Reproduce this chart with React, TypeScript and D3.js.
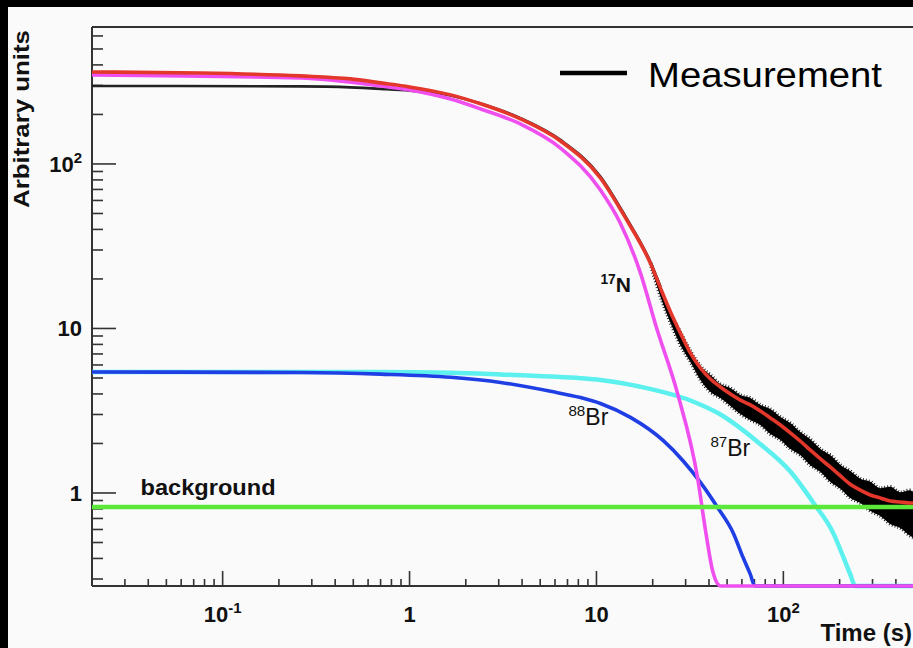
import React, { useRef, useEffect } from 'react';
import * as d3 from 'd3';

// axis limits (time in s, arbitrary units)
const X_DOMAIN: [number, number] = [0.02, 500];
const Y_DOMAIN: [number, number] = [0.272, 680];

// measurement, smooth early part
const MEAS_T = [0.02, 0.261, 0.483, 0.7, 1, 1.66, 2.4, 3.92, 6.42, 10.5, 14.3, 19.5, 22];
const MEAS_V = [298, 296, 292, 286, 279, 261, 233, 190, 140, 84, 48, 25.2, 18];

// measurement, noisy tail: upper and lower edge
const TAIL_T = [19.5, 22.0, 24.9, 28.1, 31.8, 36.0, 40.7, 46.0, 52.1, 58.9, 66.6, 75.3, 85.2, 96.4, 109, 123, 139, 158, 178, 202, 228, 258, 292, 330, 373, 422, 478, 500];
const TAIL_HI = [25.0, 16.9, 12.25, 9.52, 7.3, 5.92, 5.22, 4.6, 4.35, 3.94, 3.78, 3.43, 3.24, 2.9, 2.66, 2.35, 2.13, 1.85, 1.7, 1.48, 1.36, 1.22, 1.17, 1.07, 1.09, 1.01, 1.04, 0.986];
const TAIL_LO = [24.2, 15.6, 10.8, 7.94, 6.26, 4.86, 4.11, 3.78, 3.38, 3.02, 2.78, 2.59, 2.28, 2.1, 1.85, 1.7, 1.48, 1.34, 1.17, 1.06, 0.932, 0.869, 0.777, 0.725, 0.648, 0.613, 0.548, 0.533];

// total fit
const FIT_T = [0.02, 0.0762, 0.261, 0.483, 0.7, 1, 1.66, 2.4, 3.92, 6.42, 10.5, 14.3, 19.5, 22, 24.9, 28.1, 31.8, 36, 40.7, 46, 52.1, 58.9, 66.6, 75.3, 85.2, 96.4, 109, 123, 139, 158, 178, 202, 228, 258, 292, 330, 373, 422, 478, 500];
const FIT_V = [362, 357, 343, 329, 311, 294, 263, 232, 188, 138, 82.2, 47.0, 24.7, 17.6, 12.6, 9.39, 7.1, 5.75, 4.93, 4.41, 4.0, 3.67, 3.43, 3.15, 2.86, 2.59, 2.32, 2.07, 1.83, 1.61, 1.44, 1.27, 1.13, 1.04, 0.972, 0.932, 0.894, 0.882, 0.869, 0.869];

// 17N component
const N17_T = [0.02, 0.261, 0.7, 1, 1.66, 2.4, 3.92, 6.42, 10.5, 13.4, 17.2, 20.9, 27.1, 34.7, 38.3, 42.1, 46.1, 500];
const N17_V = [348, 333, 298, 282, 248, 216, 175, 125, 69.5, 43.8, 21.7, 10.2, 4.06, 1.25, 0.596, 0.327, 0.272, 0.272];

// 88Br component
const BR88_T = [0.02, 0.261, 0.7, 1.66, 3.07, 5.68, 8.22, 10.5, 15.2, 22.8, 29.2, 36.0, 44.3, 54.0, 60.9, 66.6, 70.4, 500];
const BR88_V = [5.44, 5.4, 5.28, 5.05, 4.7, 4.15, 3.8, 3.5, 2.88, 2.08, 1.56, 1.16, 0.822, 0.57, 0.405, 0.32, 0.272, 0.272];

// 87Br component
const BR87_T = [0.02, 0.7, 1.66, 3.07, 5.68, 8.22, 10.5, 17.2, 31.8, 44.9, 72.6, 109, 145, 185, 209, 228, 243, 500];
const BR87_V = [5.44, 5.44, 5.38, 5.25, 5.1, 4.98, 4.86, 4.42, 3.65, 3.05, 2.05, 1.35, 0.87, 0.57, 0.41, 0.32, 0.272, 0.272];

// background
const BG_T = [0.02, 500];
const BG_V = [0.822, 0.822];

const X_TICKS = [0.1, 1, 10, 100];
const X_TICK_BASE = ['10', '1', '10', '10'];
const X_TICK_EXP = ['-1', '', '', '2'];
const Y_TICKS = [1, 10, 100];
const Y_TICK_BASE = ['1', '10', '10'];
const Y_TICK_EXP = ['', '', '2'];

const FONT = '"Liberation Sans", Arial, Helvetica, sans-serif';

const zip = (t: number[], v: number[]) => t.map((d, i) => [d, v[i]] as [number, number]);

const App = () => {
  const svgRef = useRef<SVGSVGElement>(null);

  useEffect(() => {
    const svg = d3.select(svgRef.current);
    svg.selectAll('*').remove();
    const width = 913;
    const height = 648;

    const left = 92, right = 914, top = 27, bottom = 586;

    const x = d3.scaleLog().domain(X_DOMAIN).range([left, right]);
    const y = d3.scaleLog().domain(Y_DOMAIN).range([bottom, top]).clamp(true);

    // page background and black edges
    svg.append('rect').attr('width', width).attr('height', height).attr('fill', '#fafafa');
    svg.append('rect').attr('width', width).attr('height', 7).attr('fill', '#000');
    svg.append('rect').attr('width', 8).attr('height', height).attr('fill', '#000');

    const defs = svg.append('defs');
    defs.append('clipPath').attr('id', 'plot-clip')
      .append('rect').attr('x', left).attr('y', top).attr('width', right - left).attr('height', bottom - top + 6);
    const blur = defs.append('filter').attr('id', 'soft').attr('x', '-20%').attr('y', '-100%').attr('width', '140%').attr('height', '300%');
    blur.append('feGaussianBlur').attr('stdDeviation', 1.6);

    // frame
    const axisColor = '#333';
    svg.append('line').attr('x1', left).attr('x2', left).attr('y1', top).attr('y2', bottom)
      .attr('stroke', axisColor).attr('stroke-width', 2);
    svg.append('line').attr('x1', left).attr('x2', width).attr('y1', top).attr('y2', top)
      .attr('stroke', axisColor).attr('stroke-width', 2);
    svg.append('line').attr('x1', left).attr('x2', width).attr('y1', bottom).attr('y2', bottom)
      .attr('stroke', axisColor).attr('stroke-width', 2);

    // y ticks
    const yMinor = y.ticks().filter(d => d > Y_DOMAIN[0] && d < Y_DOMAIN[1]);
    svg.append('g').selectAll('line').data(yMinor).join('line')
      .attr('x1', left).attr('x2', d => left + (Y_TICKS.includes(d) ? 24 : 11))
      .attr('y1', d => y(d)).attr('y2', d => y(d))
      .attr('stroke', axisColor).attr('stroke-width', 1.6);

    // x ticks
    const xMinor = x.ticks().filter(d => d > X_DOMAIN[0] && d < X_DOMAIN[1]);
    svg.append('g').selectAll('line').data(xMinor).join('line')
      .attr('x1', d => x(d)).attr('x2', d => x(d))
      .attr('y1', bottom).attr('y2', d => bottom - (X_TICKS.includes(d) ? 15 : 7))
      .attr('stroke', axisColor).attr('stroke-width', 1.6);

    // tick labels
    const xl = svg.append('g').attr('font-family', FONT).attr('font-weight', 'bold').attr('fill', '#111');
    X_TICKS.forEach((d, i) => {
      const t = xl.append('text').attr('x', x(d)).attr('y', 622).attr('text-anchor', 'middle').attr('font-size', 22);
      t.append('tspan').text(X_TICK_BASE[i]);
      if (X_TICK_EXP[i]) t.append('tspan').attr('dy', -9).attr('font-size', 15).text(X_TICK_EXP[i]);
    });
    Y_TICKS.forEach((d, i) => {
      const t = xl.append('text').attr('x', 82).attr('y', y(d) + 8).attr('text-anchor', 'end').attr('font-size', 22);
      t.append('tspan').text(Y_TICK_BASE[i]);
      if (Y_TICK_EXP[i]) t.append('tspan').attr('dy', -9).attr('font-size', 15).text(Y_TICK_EXP[i]);
    });

    // axis titles
    xl.append('text').attr('transform', 'rotate(-90)').attr('x', -119).attr('y', 29)
      .attr('text-anchor', 'middle').attr('font-size', 22)
      .attr('textLength', 178).attr('lengthAdjust', 'spacingAndGlyphs').text('Arbitrary units');
    xl.append('text').attr('x', 912).attr('y', 641).attr('text-anchor', 'end').attr('font-size', 24)
      .text('Time (s)');

    const plot = svg.append('g').attr('clip-path', 'url(#plot-clip)');
    const line = d3.line<[number, number]>()
      .x(d => x(d[0])).y(d => y(d[1]))
      .curve(d3.curveMonotoneX);

    // measurement
    plot.append('path').datum(zip(MEAS_T, MEAS_V))
      .attr('d', line).attr('fill', 'none').attr('stroke', '#222').attr('stroke-width', 2.6);
    const tail = d3.area<number>()
      .x((_, i) => x(TAIL_T[i]))
      .y0((_, i) => y(TAIL_LO[i]))
      .y1((_, i) => y(TAIL_HI[i]))
      .curve(d3.curveMonotoneX);
    plot.append('path').datum(TAIL_T)
      .attr('d', tail).attr('fill', '#000').attr('stroke', '#000').attr('stroke-width', 3.5)
      .attr('stroke-dasharray', '0.8 2.2');

    const series: [number[], number[], string, number][] = [
      [BR87_T, BR87_V, '#5cf0ee', 4.5],
      [BR88_T, BR88_V, '#1f3ee3', 3.6],
      [N17_T, N17_V, '#ee4fee', 3.6],
      [BG_T, BG_V, '#5be83a', 4.5],
      [FIT_T, FIT_V, '#e2372a', 3.6],
    ];
    series.forEach(([t, v, color, w]) => {
      plot.append('path').datum(zip(t, v))
        .attr('d', line).attr('fill', 'none').attr('stroke', color).attr('stroke-width', w);
    });

    // component labels
    const lab = svg.append('g').attr('font-family', FONT).attr('fill', '#111');
    const addLabel = (tt: number, vv: number, sup: string, main: string, size: number, bold: boolean) => {
      const t = lab.append('text').attr('x', x(tt)).attr('y', y(vv)).attr('font-size', size)
        .attr('font-weight', bold ? 'bold' : 'normal');
      t.append('tspan').attr('font-size', size * 0.66).attr('dy', -size * 0.38).text(sup);
      t.append('tspan').attr('dy', size * 0.38).text(main);
    };
    addLabel(10.5, 16.7, '17', 'N', 21, true);
    addLabel(7.08, 2.59, '88', 'Br', 23, false);
    addLabel(40.7, 1.68, '87', 'Br', 23, false);
    lab.append('text').attr('x', x(0.0364)).attr('y', y(0.972)).attr('font-size', 22)
      .attr('font-weight', 'bold').attr('textLength', 135).attr('lengthAdjust', 'spacingAndGlyphs')
      .text('background');

    // legend
    const leg = svg.append('g');
    leg.append('line').attr('x1', 561).attr('x2', 628).attr('y1', 75).attr('y2', 75)
      .attr('stroke', '#888').attr('stroke-width', 5).attr('filter', 'url(#soft)');
    leg.append('line').attr('x1', 560).attr('x2', 627).attr('y1', 73).attr('y2', 73)
      .attr('stroke', '#000').attr('stroke-width', 4.5);
    leg.append('text').attr('x', 648).attr('y', 87).attr('font-family', FONT).attr('font-size', 35)
      .attr('fill', '#000').attr('textLength', 234).attr('lengthAdjust', 'spacingAndGlyphs')
      .text('Measurement');
  }, []);

  return (
    <svg ref={svgRef} width="913" height="648"
      style={{ position: 'absolute', left: 0, top: 0, display: 'block' }}></svg>
  );
};

export default App;
